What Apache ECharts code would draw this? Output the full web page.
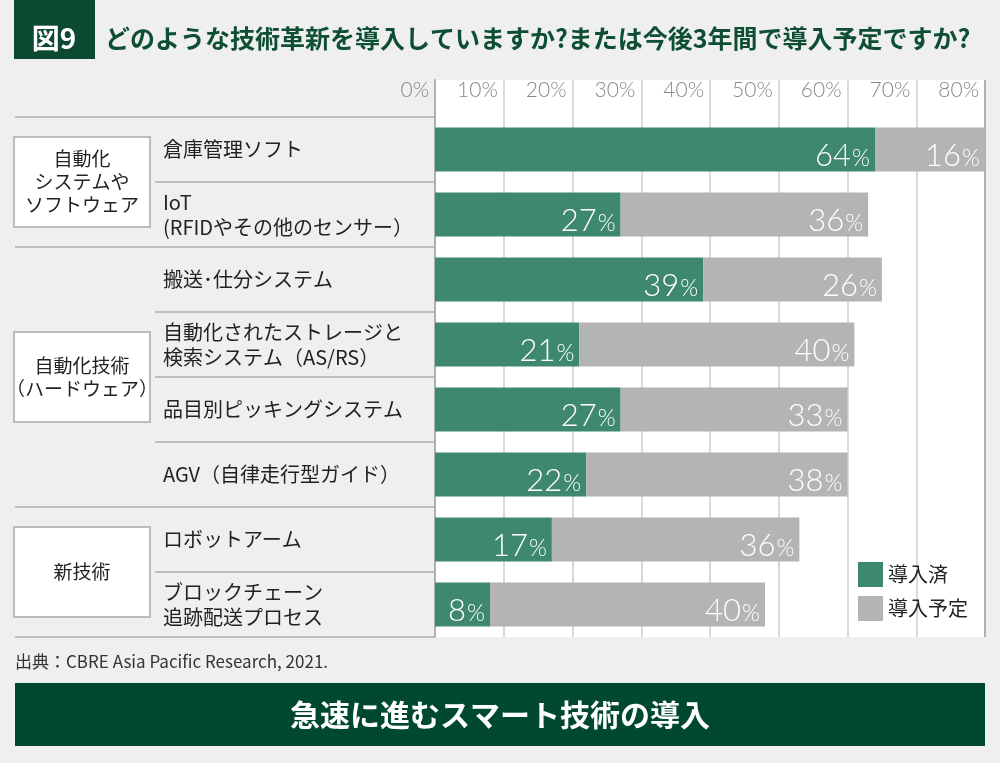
<!DOCTYPE html>
<html>
<head>
<meta charset="utf-8">
<script src="https://cdn.jsdelivr.net/npm/echarts@6/dist/echarts.min.js"></script>
<style>
	html, body { margin: 0; padding: 0; background: #efefef; }
	#chart { width: 1000px; height: 763px; }
</style>
</head>
<body>
<div id="chart"></div>
<script>
	// データ
	const categories = [
		'倉庫管理ソフト',
		'IoT\n(RFIDやその他のセンサー）',
		'搬送･仕分システム',
		'自動化されたストレージと\n検索システム（AS/RS）',
		'品目別ピッキングシステム',
		'AGV（自律走行型ガイド）',
		'ロボットアーム',
		'ブロックチェーン\n追跡配送プロセス'
	];
	const installed = [64, 27, 39, 21, 27, 22, 17, 8];
	const planned = [16, 36, 26, 40, 33, 38, 36, 40];
	const seriesNames = ['導入済', '導入予定'];
	const groupNames = ['自動化\nシステムや\nソフトウェア', '自動化技術\n（ハードウェア）', '新技術'];
	const groupRanges = [[0, 2], [2, 6], [6, 8]];
	const xMax = 80;
	const xStep = 10;

	// 色・レイアウト
	const GREEN = '#3e8771';
	const GRAY = '#b4b4b4';
	const DARK = '#0b4a31';
	const JP = '"Noto Sans CJK JP", sans-serif';
	const NUM = 'Lato, "Noto Sans", sans-serif';
	const GRID_LEFT = 435;
	const GRID_RIGHT = 15;
	const HEAD_TOP = 80;
	const GRID_TOP = 117;
	const ROW_H = 65;
	const GRID_H = ROW_H * categories.length;

	const splitColors = [];
	for (let v = 0; v <= xMax; v += xStep) {
		splitColors.push(v === 0 || v === xMax ? '#b0b0b0' : '#d9d9d9');
	}

	const rowY = i => GRID_TOP + i * ROW_H;

	const graphics = [
		{ type: 'rect', shape: { x: 14, y: 0, width: 81, height: 59 }, style: { fill: DARK } },
		{ type: 'text', x: 54, y: 38, style: { text: '図9', fill: '#fff', font: 'bold 28px ' + JP, align: 'center', verticalAlign: 'middle' } },
		{ type: 'text', x: 105, y: 38, style: { text: 'どのような技術革新を導入していますか?または今後3年間で導入予定ですか?', fill: '#0e4e33', font: 'bold 25px ' + JP, verticalAlign: 'middle' } },
		{ type: 'text', x: 15, y: 662, style: { text: '出典：CBRE Asia Pacific Research, 2021.', fill: '#333', font: '17px ' + JP, verticalAlign: 'middle' } },
		{ type: 'rect', shape: { x: 15, y: 683, width: 970, height: 63 }, style: { fill: '#00482f' } },
		{ type: 'text', x: 500, y: 715, style: { text: '急速に進むスマート技術の導入', fill: '#fff', font: 'bold 30px ' + JP, align: 'center', verticalAlign: 'middle' } }
	];

	// 左側の区切り線
	for (let i = 0; i <= categories.length; i++) {
		const isGroupEdge = i === 0 || groupRanges.some(r => r[1] === i);
		graphics.push({
			type: 'line',
			shape: { x1: isGroupEdge ? 15 : 155, y1: rowY(i), x2: GRID_LEFT, y2: rowY(i) },
			style: { stroke: '#bdbdbd', lineWidth: 2 }
		});
	}

	// グループの枠
	groupRanges.forEach((r, k) => {
		const mid = (rowY(r[0]) + rowY(r[1])) / 2;
		graphics.push({
			type: 'rect',
			shape: { x: 14, y: mid - 45, width: 136, height: 90 },
			style: { fill: '#fff', stroke: '#bcbcbc', lineWidth: 2 }
		});
		graphics.push({
			type: 'text', x: 82, y: mid,
			style: { text: groupNames[k], fill: '#222', font: '19px ' + JP, lineHeight: 23, align: 'center', verticalAlign: 'middle' }
		});
	});

	const barLabel = {
		show: true,
		position: 'insideRight',
		distance: 5,
		offset: [0, 6],
		color: '#fff',
		formatter: p => '{n|' + p.value + '}{p|%}',
		rich: {
			n: { fontSize: 31, fontFamily: NUM, fontWeight: 300, color: '#fff', verticalAlign: 'bottom', lineHeight: 32 },
			p: { fontSize: 23, fontFamily: NUM, fontWeight: 300, color: '#fff', verticalAlign: 'bottom', lineHeight: 32, padding: [0, 0, 1, 1] }
		}
	};

	const option = {
		animation: false,
		backgroundColor: '#efefef',
		grid: [
			{ left: GRID_LEFT, right: GRID_RIGHT, top: GRID_TOP, height: GRID_H, show: true, backgroundColor: '#fff', borderWidth: 0 },
			{ left: GRID_LEFT, right: GRID_RIGHT, top: HEAD_TOP, height: GRID_TOP - HEAD_TOP, show: true, backgroundColor: '#fff', borderWidth: 0 }
		],
		legend: {
			data: seriesNames,
			orient: 'vertical',
			left: 858,
			top: 562,
			padding: 0,
			icon: 'rect',
			itemWidth: 25,
			itemHeight: 25,
			itemGap: 9,
			textStyle: { fontSize: 20, color: '#222', fontFamily: JP }
		},
		xAxis: [
			{
				gridIndex: 0, type: 'value', min: 0, max: xMax, interval: xStep,
				axisLabel: { show: false }, axisLine: { show: false }, axisTick: { show: false },
				splitLine: { show: true, lineStyle: { color: splitColors, width: 2 } }
			},
			{
				gridIndex: 1, type: 'value', min: 0, max: xMax, interval: xStep, position: 'top',
				axisLine: { show: false }, axisTick: { show: false },
				axisLabel: {
					inside: true, margin: 10, align: 'right', verticalAlign: 'middle', padding: [0, 6, 0, 0],
					formatter: '{value}%', fontSize: 21, fontFamily: NUM, fontWeight: 300, color: '#888'
				},
				splitLine: { show: true, lineStyle: { color: splitColors, width: 2 } }
			}
		],
		yAxis: [
			{
				gridIndex: 0, type: 'category', data: categories, inverse: true,
				axisTick: { show: false },
				axisLine: { show: true, lineStyle: { color: '#b0b0b0', width: 2 } },
				axisLabel: { interval: 0, align: 'left', margin: GRID_LEFT - 163, fontSize: 20, lineHeight: 25, color: '#222', fontFamily: JP },
				splitLine: { show: false }
			},
			{
				gridIndex: 1, type: 'value', min: 0, max: 1,
				axisLabel: { show: false }, axisTick: { show: false }, splitLine: { show: false },
				axisLine: { show: true, lineStyle: { color: '#b0b0b0', width: 2 } }
			}
		],
		series: [
			{
				name: seriesNames[0], type: 'bar', stack: 'total', barWidth: 44,
				xAxisIndex: 0, yAxisIndex: 0,
				itemStyle: { color: GREEN },
				emphasis: { disabled: true },
				label: barLabel,
				data: installed
			},
			{
				name: seriesNames[1], type: 'bar', stack: 'total', barWidth: 44,
				xAxisIndex: 0, yAxisIndex: 0,
				itemStyle: { color: GRAY },
				emphasis: { disabled: true },
				label: barLabel,
				data: planned
			}
		],
		graphic: graphics
	};

	const chart = echarts.init(document.getElementById('chart'));
	chart.setOption(option);
</script>
</body>
</html>
